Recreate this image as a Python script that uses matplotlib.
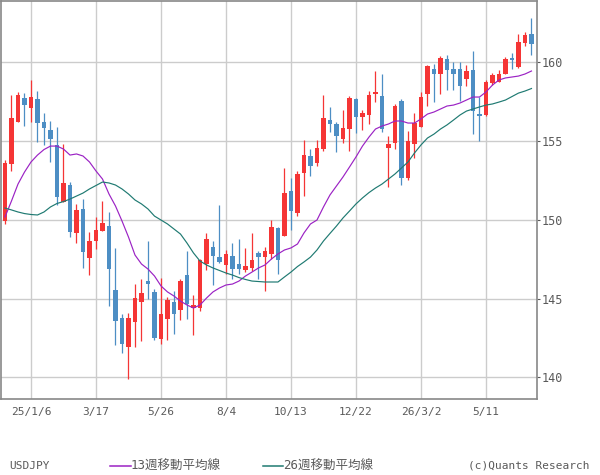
import matplotlib
matplotlib.use("Agg")
import matplotlib.pyplot as plt
import numpy as np
import pandas as pd

# weekly USDJPY candles, Dec 2024 - Jun 2026
start_week = "2024-12-09"
opens = [149.94, 153.53, 156.21, 157.72, 157.10, 157.65, 156.20, 155.69, 154.72, 151.14,
         152.20, 149.18, 150.68, 147.59, 148.67, 149.30, 149.60, 145.54, 143.77, 141.95,
         143.53, 144.80, 146.11, 145.42, 142.45, 143.72, 144.78, 144.29, 146.49, 144.42,
         144.42, 147.17, 148.27, 147.63, 147.15, 147.70, 147.19, 146.81, 146.94, 147.89,
         147.63, 147.83, 149.47, 148.97, 151.82, 150.44, 152.98, 154.06, 153.61, 154.50,
         156.34, 156.07, 155.14, 155.77, 157.65, 156.49, 156.66, 157.99, 157.84, 154.57,
         154.88, 157.53, 152.66, 154.82, 155.90, 157.99, 159.56, 159.26, 160.19, 159.56,
         159.56, 158.94, 159.49, 156.72, 156.66, 158.69, 158.75, 159.26, 160.27, 159.70,
         161.22, 161.79]
highs = [153.79, 157.91, 158.10, 158.03, 158.86, 158.16, 156.77, 156.26, 155.88, 154.82,
         152.39, 151.00, 151.31, 149.24, 150.17, 151.17, 150.49, 148.21, 144.04, 144.10,
         145.92, 146.24, 148.65, 145.59, 146.28, 145.10, 145.48, 146.24, 148.03, 145.23,
         147.50, 149.16, 148.65, 150.95, 148.08, 148.52, 148.78, 148.21, 149.16, 148.02,
         148.27, 149.98, 149.54, 153.30, 152.66, 153.11, 155.07, 154.50, 155.07, 157.93,
         157.17, 156.21, 156.96, 157.84, 157.72, 156.98, 158.18, 159.45, 159.26, 155.33,
         157.36, 157.65, 155.64, 156.79, 158.12, 159.80, 159.89, 160.40, 160.46, 160.02,
         160.02, 159.83, 160.72, 157.80, 158.88, 159.32, 159.51, 160.34, 160.59, 161.79,
         161.92, 162.81]
lows = [149.73, 153.11, 156.20, 155.94, 156.21, 154.95, 154.74, 153.68, 150.93, 151.10,
        148.88, 148.54, 146.94, 146.51, 148.16, 149.28, 144.55, 142.07, 141.57, 139.92,
        141.95, 142.33, 144.95, 142.39, 142.14, 142.39, 142.77, 143.66, 143.72, 142.71,
        144.23, 146.81, 145.84, 147.27, 146.56, 146.22, 146.56, 146.68, 146.75, 146.22,
        145.50, 147.51, 146.56, 148.95, 149.35, 150.25, 151.52, 152.79, 153.42, 154.38,
        155.58, 154.31, 154.88, 154.38, 155.52, 155.71, 156.09, 157.48, 155.58, 152.09,
        154.50, 152.22, 152.54, 153.93, 155.88, 157.23, 157.48, 157.99, 158.24, 158.24,
        157.55, 158.50, 155.45, 155.01, 156.60, 158.56, 158.74, 159.24, 159.58, 159.64,
        161.03, 160.46]
closes = [153.58, 156.47, 157.91, 157.29, 157.78, 156.15, 155.83, 155.14, 151.42, 152.33,
          149.20, 150.62, 147.97, 148.65, 149.35, 149.79, 146.89, 143.60, 142.14, 143.77,
          145.03, 145.35, 145.94, 142.52, 144.02, 144.91, 144.04, 146.11, 144.67, 144.59,
          147.46, 148.78, 147.68, 147.34, 147.83, 146.89, 146.89, 147.06, 147.44, 147.63,
          148.02, 149.54, 147.44, 151.71, 150.57, 152.92, 154.12, 153.42, 154.57, 156.47,
          156.09, 155.33, 155.83, 157.72, 156.53, 156.78, 157.91, 158.10, 155.77, 154.82,
          157.21, 152.66, 155.01, 156.15, 157.78, 159.77, 159.26, 160.27, 159.51, 159.26,
          158.50, 159.43, 156.91, 156.59, 158.75, 159.19, 159.26, 160.21, 160.15, 161.29,
          161.73, 161.16]

# moving averages as drawn on the chart
ma13 = [150.17, 151.19, 152.26, 153.02, 153.66, 154.10, 154.45, 154.67, 154.67, 154.48,
        154.10, 154.17, 154.04, 153.66, 153.09, 152.58, 151.63, 150.87, 149.92, 148.90,
        147.76, 147.19, 146.87, 146.43, 145.80, 145.42, 145.16, 144.84, 144.59, 144.40,
        144.59, 145.03, 145.42, 145.67, 145.86, 145.92, 146.11, 146.43, 146.68, 146.94,
        147.13, 147.51, 147.83, 148.08, 148.21, 148.46, 149.16, 149.73, 149.98, 150.81,
        151.57, 152.14, 152.71, 153.34, 153.98, 154.67, 155.24, 155.75, 155.94, 156.07,
        156.26, 156.26, 156.13, 156.13, 156.39, 156.70, 156.83, 157.02, 157.21, 157.27,
        157.40, 157.59, 157.78, 157.78, 158.10, 158.54, 158.86, 158.99, 159.05, 159.11,
        159.24, 159.43]
ma26 = [150.74, 150.62, 150.49, 150.39, 150.33, 150.30, 150.49, 150.81, 151.03, 151.15,
        151.31, 151.50, 151.69, 151.95, 152.17, 152.39, 152.33, 152.20, 151.95, 151.63,
        151.25, 151.00, 150.68, 150.23, 149.98, 149.73, 149.41, 149.09, 148.52, 147.89,
        147.38, 147.13, 146.94, 146.78, 146.62, 146.49, 146.33, 146.21, 146.11, 146.08,
        146.05, 146.05, 146.05, 146.37, 146.68, 147.03, 147.32, 147.63, 148.08, 148.65,
        149.13, 149.60, 150.11, 150.55, 151.00, 151.38, 151.72, 152.01, 152.26, 152.58,
        152.90, 153.28, 153.66, 154.23, 154.74, 155.18, 155.43, 155.75, 156.01, 156.32,
        156.64, 156.89, 157.02, 157.15, 157.27, 157.34, 157.46, 157.59, 157.81, 158.03,
        158.16, 158.32]

tick_dates = ["2025-01-06", "2025-03-17", "2025-05-26", "2025-08-04",
              "2025-10-13", "2025-12-22", "2026-03-02", "2026-05-11"]
tick_labels = ["25/1/6", "3/17", "5/26", "8/4", "10/13", "12/22", "26/3/2", "5/11"]
y_ticks = [140, 145, 150, 155, 160]

UP = "#f53535"
DOWN = "#4d8ec4"
C13 = "#9b22c4"
C26 = "#1f7a72"
GRID = "#cccccc"
TXT = "#5a5a5a"

plt.rcParams["font.family"] = ["DejaVu Sans Mono", "Noto Sans CJK JP"]

dates = pd.date_range(start_week, periods=len(opens), freq="W-MON")
x = np.arange(len(opens))
o, h, l, c = map(np.array, (opens, highs, lows, closes))
up = c >= o
colors = np.where(up, UP, DOWN)

fig = plt.figure(figsize=(6, 4.75), dpi=100)
ax = fig.add_axes([1 / 600, 76 / 475, 536 / 600, 398 / 475])

# grid
tick_pos = [dates.get_loc(pd.Timestamp(d)) for d in tick_dates]
for tp in tick_pos:
    ax.axvline(tp, color=GRID, lw=1.0, zorder=0)
for yt in y_ticks:
    ax.axhline(yt, color=GRID, lw=1.0, zorder=0)

# candles
ax.vlines(x, l, h, colors=colors, lw=0.9, zorder=2)
body = np.maximum(np.abs(c - o), 0.12)
ax.bar(x, body, bottom=np.minimum(o, c), width=0.76, color=colors, lw=0, zorder=3)

ax.plot(x, ma13, color=C13, lw=0.85, zorder=4)
ax.plot(x, ma26, color=C26, lw=0.85, zorder=4)

ax.set_xlim(-0.615, 81.85)
ax.set_ylim(138.63, 163.87)

ax.set_xticks(tick_pos)
ax.set_xticklabels(tick_labels)
ax.tick_params(axis="x", length=0, pad=6, labelsize=8, colors=TXT)
ax.yaxis.tick_right()
ax.set_yticks(y_ticks)
ax.tick_params(axis="y", length=2, pad=1, labelsize=8.5, colors=TXT, direction="out")
for s in ax.spines.values():
    s.set_color("#888888")
    s.set_linewidth(1.2)

# footer
fig.text(9 / 600, 1 - 466 / 475, "USDJPY", fontsize=8, color=TXT, va="center")
fig.add_artist(plt.Line2D([110 / 600, 131 / 600], [1 - 466 / 475] * 2, color=C13, lw=1.1))
fig.text(131 / 600, 1 - 466 / 475, "13週移動平均線", fontsize=9, color=TXT, va="center")
fig.add_artist(plt.Line2D([263 / 600, 283 / 600], [1 - 466 / 475] * 2, color=C26, lw=1.1))
fig.text(283 / 600, 1 - 466 / 475, "26週移動平均線", fontsize=9, color=TXT, va="center")
fig.text(590 / 600, 1 - 466 / 475, "(c)Quants Research", fontsize=8, color=TXT,
         va="center", ha="right")

fig.savefig("out.png", dpi=100)
